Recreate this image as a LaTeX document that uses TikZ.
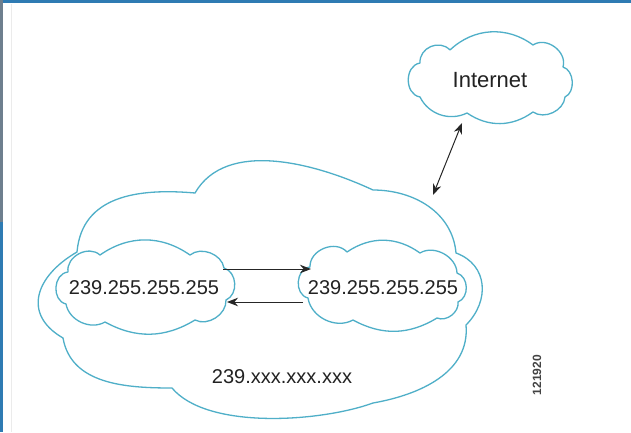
\documentclass[tikz,border=0pt]{standalone}
\usepackage{fontspec}
\setmainfont{Liberation Sans}
\usetikzlibrary{arrows.meta}
\definecolor{cloudc}{HTML}{4FAFC8}
\definecolor{barblue}{HTML}{2E7BB3}
\definecolor{bargray}{HTML}{6E7F8E}
\definecolor{txt}{HTML}{222222}
\tikzset{
  cloudline/.style={draw=cloudc, line width=1.3pt, line join=round},
  lbl/.style={text=txt, inner sep=0pt, font=\fontsize{20}{22}\selectfont},
  conn/.style={draw=black!85, line width=1pt},
  tip/.style={-{Stealth[length=11pt,width=8.5pt]}},
  dtip/.style={{Stealth[length=11pt,width=8.5pt]}-{Stealth[length=11pt,width=8.5pt]}}
}
\begin{document}
\begin{tikzpicture}[x=1pt,y=1pt]
\useasboundingbox (0,0) rectangle (631,432);
\fill[white] (0,0) rectangle (631,432);
% frame bars
\fill[barblue] (0,428.5) rectangle (631,432);
\fill[bargray] (0,210) rectangle (2.5,432);
\fill[barblue] (0,0) rectangle (2.5,210);
\draw[black!8, line width=1pt] (11,0) -- (11,428);
% big cloud
\path[cloudline] (77,180)
  to[out=85,in=175,looseness=1.1] (195,239)
  to[out=60,in=155,looseness=0.9] (373,242)
  to[out=0,in=95,looseness=1.0] (456,179)
  to[out=-20,in=45,looseness=1.2] (466,107)
  to[out=-85,in=10,looseness=1.0] (373,29)
  to[out=200,in=-50,looseness=0.7] (172,44)
  to[out=180,in=-80,looseness=1.0] (63,94)
  to[out=150,in=210,looseness=1.4] cycle;
% Internet cloud
\path[cloudline] (420,369)
  to[bend left=70,looseness=1.2] (450,382)
  to[bend left=40] (533,387)
  to[bend left=70,looseness=1.1] (563,365)
  to[bend left=70] (565,335)
  to[bend left=60] (533,320)
  to[bend left=35] (467,319)
  to[bend left=45] (420,335)
  to[bend left=80,looseness=1.2] cycle;
% left small cloud
\path[cloudline] (68,160)
  to[bend left=70,looseness=1.1] (100,177)
  to[bend left=35] (190,177)
  to[bend left=60] (224,164)
  to[bend left=70,looseness=1.1] (226,132)
  to[bend left=60] (195,112)
  to[bend left=30] (105,110)
  to[bend left=55] (66,128)
  to[bend left=80,looseness=1.2] cycle;
% right small cloud
\path[cloudline] (310,165)
  to[bend left=70,looseness=1.1] (347,180)
  to[bend left=35] (420,179)
  to[bend left=60] (457,159)
  to[bend left=70,looseness=1.1] (458,130)
  to[bend left=60] (437,114)
  to[bend left=30] (353,112)
  to[bend left=55] (308,134)
  to[bend left=80,looseness=1.2] cycle;
% labels
\node[lbl, font=\fontsize{22}{24}\selectfont] (inet) at (490,352) {Internet};
\node[lbl] (left) at (144,144) {239.255.255.255};
\node[lbl] (right) at (383,144) {239.255.255.255};
\node[lbl] (big) at (282,55) {239.xxx.xxx.xxx};
\node[text=txt!85, inner sep=0pt, rotate=90, font=\bfseries\fontsize{12}{13}\selectfont] (code) at (537,57) {121920};
% connector endpoints on cloud edges
\coordinate (inetS) at (462,309);
\coordinate (bigN) at (433,237);
\coordinate (leftE1) at (223,163);
\coordinate (rightW1) at (311,163);
\coordinate (rightW2) at (303,130);
\coordinate (leftE2) at (227,130);
\draw[conn, dtip] (bigN) -- (inetS);
\draw[conn, tip] (leftE1) -- (rightW1);
\draw[conn, tip] (rightW2) -- (leftE2);
\end{tikzpicture}
\end{document}
